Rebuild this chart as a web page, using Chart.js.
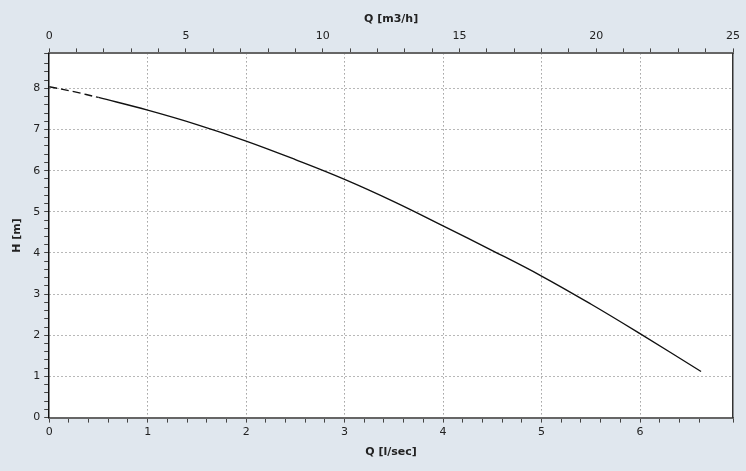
<!DOCTYPE html>
<html>
<head>
<meta charset="utf-8">
<script src="https://cdn.jsdelivr.net/npm/chart.js@4/dist/chart.umd.min.js"></script>
<style>
  html, body { margin: 0; padding: 0; background: #e0e7ee; }
  #wrap { width: 746px; height: 471px; }
</style>
</head>
<body>
<div id="wrap"><canvas id="pump" width="746" height="471"></canvas></div>
<script>
// pump curve
var qDashed = [0, 0.25, 0.5];            // l/sec
var hDashed = [8.04, 7.92, 7.78];        // m
var qSolid = [0.5, 1, 1.5, 2, 2.5, 3, 3.5, 4, 4.5, 5, 5.5, 6, 6.62];
var hSolid = [7.78, 7.47, 7.12, 6.72, 6.27, 5.79, 5.25, 4.66, 4.06, 3.44, 2.76, 2.04, 1.12];

var qMaxM3h = 25;
var qMaxLs = qMaxM3h / 3.6;
var hMax = 8.85;

function pts(xs, ys) {
  return xs.map(function(x, i) { return { x: x, y: ys[i] }; });
}
function isWhole(v, step) {
  var r = v / step;
  return Math.abs(r - Math.round(r)) < 1e-6;
}

var gridDot = function(step) {
  return function(ctx) {
    if (!ctx.tick) return 'transparent';
    var v = ctx.tick.value;
    if (v <= 0 || !isWhole(v, step)) return 'transparent';
    return '#707070';
  };
};

var tickFont = { family: 'DejaVu Sans', size: 11 };
var titleFont = { family: 'DejaVu Sans', size: 11, weight: 'bold' };

// white plot area
var plotBg = {
  id: 'plotBg',
  beforeDraw: function(chart) {
    var a = chart.chartArea, c = chart.ctx;
    c.save();
    c.fillStyle = '#ffffff';
    c.fillRect(a.left, a.top, a.right - a.left, a.bottom - a.top);
    c.restore();
  }
};

new Chart(document.getElementById('pump'), {
  type: 'line',
  data: {
    datasets: [{
      data: pts(qDashed, hDashed),
      borderColor: '#111',
      borderWidth: 1.4,
      borderDash: [8, 4],
      pointRadius: 0,
      tension: 0.4,
      xAxisID: 'x',
      yAxisID: 'y'
    }, {
      data: pts(qSolid, hSolid),
      borderColor: '#111',
      borderWidth: 1.4,
      pointRadius: 0,
      tension: 0.4,
      xAxisID: 'x',
      yAxisID: 'y'
    }]
  },
  options: {
    responsive: false,
    animation: false,
    maintainAspectRatio: false,
    layout: { padding: { left: 11, right: 13, top: 13, bottom: 12 } },
    plugins: { legend: { display: false }, tooltip: { enabled: false } },
    scales: {
      x: {
        type: 'linear',
        position: 'bottom',
        min: 0,
        max: qMaxLs,
        ticks: {
          stepSize: 0.2,
          autoSkip: false,
          maxRotation: 0,
          color: '#222',
          font: tickFont,
          padding: 3,
          callback: function(v) { return isWhole(v, 1) ? String(Math.round(v)) : ''; }
        },
        grid: {
          color: gridDot(1),
          tickColor: '#444',
          tickLength: 5
        },
        border: { color: '#666', width: 2, dash: [1, 3] },
        title: { display: true, text: 'Q [l/sec]', color: '#222', font: titleFont, padding: { top: 4, bottom: 0 } }
      },
      x2: {
        type: 'linear',
        position: 'top',
        min: 0,
        max: qMaxM3h,
        ticks: {
          stepSize: 1,
          autoSkip: false,
          maxRotation: 0,
          color: '#222',
          font: tickFont,
          padding: 6,
          callback: function(v) { return isWhole(v, 5) ? String(Math.round(v)) : ''; }
        },
        grid: { drawOnChartArea: false, tickColor: '#444', tickLength: 5 },
        border: { color: '#666', width: 2 },
        title: { display: true, text: 'Q [m3/h]', color: '#222', font: titleFont, padding: { top: 0, bottom: -3 } }
      },
      y: {
        type: 'linear',
        position: 'left',
        min: 0,
        max: hMax,
        ticks: {
          stepSize: 0.2,
          autoSkip: false,
          color: '#222',
          font: tickFont,
          padding: 4,
          callback: function(v) { return isWhole(v, 1) ? String(Math.round(v)) : ''; }
        },
        grid: {
          color: gridDot(1),
          tickColor: '#444',
          tickLength: 5
        },
        border: { color: '#111', width: 1.5, dash: [1, 3] },
        title: { display: true, text: 'H [m]', color: '#222', font: titleFont, padding: { top: 0, bottom: 5 } }
      },
      yRight: {
        type: 'linear',
        position: 'right',
        min: 0,
        max: hMax,
        ticks: { display: false },
        grid: { drawOnChartArea: false, drawTicks: false },
        border: { color: '#333', width: 1.5 }
      }
    }
  },
  plugins: [plotBg]
});
</script>
</body>
</html>
